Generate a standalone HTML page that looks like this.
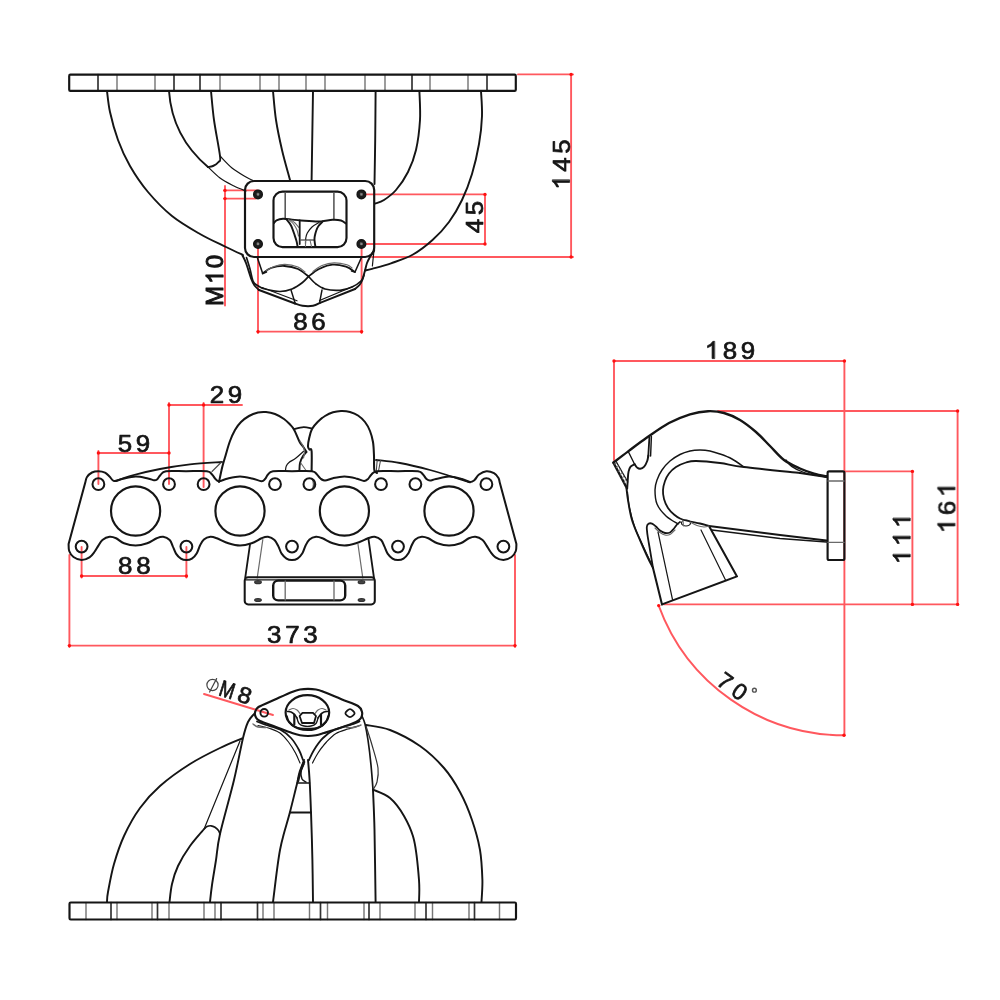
<!DOCTYPE html>
<html><head><meta charset="utf-8"><title>Manifold drawing</title>
<style>
html,body{margin:0;padding:0;background:#fff;}
body{width:1000px;height:1000px;overflow:hidden;}
svg{display:block;font-family:"Liberation Sans",sans-serif;}
svg *{stroke-linecap:round;stroke-linejoin:round;}
</style></head><body>
<svg width="1000" height="1000" viewBox="0 0 1000 1000">
<rect x="0" y="0" width="1000" height="1000" fill="#ffffff" stroke="none"/>
<g style="filter:blur(0.65px)">
<rect x="245.0" y="181.0" width="129.2" height="76.0" rx="9.0" stroke="none" fill="#fff"/>
<path d="M85.4,482.0C85.7,481.2 85.9,478.6 87.0,477.0C88.1,475.4 90.1,473.5 92.0,472.5C93.9,471.5 96.2,471.2 98.4,471.2C100.6,471.2 103.2,471.7 105.0,472.6C106.8,473.5 108.0,475.1 109.5,476.5C111.0,477.9 111.9,480.6 114.0,481.0C116.1,481.4 118.4,479.7 122.0,479.0C125.6,478.3 131.3,476.7 135.6,476.6C139.9,476.5 144.9,477.9 148.0,478.5C151.1,479.1 152.5,480.1 154.0,480.3C155.5,480.5 155.9,480.4 157.0,479.5C158.1,478.6 159.0,476.4 160.5,475.0C162.0,473.6 161.8,471.8 166.0,471.2C170.2,470.6 179.2,471.2 186.0,471.2C192.8,471.2 202.7,470.6 207.0,471.2C211.3,471.8 210.6,473.2 212.0,474.5C213.4,475.8 214.3,477.9 215.5,479.0C216.7,480.1 216.9,481.4 219.0,481.3C221.1,481.2 224.5,479.2 228.0,478.4C231.5,477.6 236.0,476.5 240.0,476.5C244.0,476.5 248.4,477.6 252.0,478.4C255.6,479.2 259.3,481.1 261.5,481.2C263.7,481.3 263.9,480.1 265.0,479.0C266.1,477.9 266.7,475.8 268.0,474.5C269.3,473.2 269.0,471.8 273.0,471.2C277.0,470.6 285.5,471.2 292.0,471.2C298.5,471.2 307.8,470.6 312.0,471.2C316.2,471.8 315.6,473.3 317.0,474.5C318.4,475.7 319.2,477.5 320.5,478.5C321.8,479.5 322.9,480.6 325.0,480.5C327.1,480.4 329.8,478.9 333.0,478.2C336.2,477.5 340.6,476.5 344.4,476.5C348.2,476.5 352.7,477.6 356.0,478.4C359.3,479.1 362.0,480.9 364.0,481.0C366.0,481.1 366.8,480.1 368.0,479.0C369.2,477.9 370.0,475.8 371.5,474.5C373.0,473.2 372.6,471.8 377.0,471.2C381.4,470.6 391.2,471.2 398.0,471.2C404.8,471.2 413.8,470.6 418.0,471.2C422.2,471.8 421.6,473.2 423.0,474.5C424.4,475.8 425.3,478.0 426.5,479.0C427.7,480.0 428.4,480.5 430.0,480.5C431.6,480.5 432.8,479.6 436.0,479.0C439.2,478.4 444.7,476.6 449.0,476.6C453.3,476.6 458.5,478.1 462.0,479.0C465.5,479.9 467.9,481.8 470.0,482.0C472.1,482.2 473.0,481.2 474.5,480.0C476.0,478.8 477.0,476.0 479.0,474.5C481.0,473.0 483.9,471.4 486.4,471.2C488.9,471.0 492.0,472.1 494.0,473.2C496.0,474.3 497.6,476.5 498.5,478.0C499.4,479.5 499.4,481.3 499.6,482.0L516.4,544.0C516.3,545.2 516.6,548.8 515.8,551.0C515.0,553.2 513.6,555.5 511.5,557.0C509.4,558.5 506.1,560.0 503.4,560.0C500.7,560.0 497.6,558.6 495.5,557.3C493.4,556.0 492.1,554.0 490.6,552.0C489.1,550.0 487.9,547.6 486.6,545.6C485.3,543.6 484.5,541.5 482.6,540.0C480.7,538.5 477.7,537.1 475.4,536.8C473.1,536.5 471.4,537.2 468.9,538.3C466.4,539.4 463.9,542.1 460.6,543.3C457.3,544.5 452.9,545.6 449.0,545.6C445.1,545.6 440.8,544.5 437.4,543.3C433.9,542.1 430.9,539.4 428.3,538.3C425.7,537.2 424.0,536.6 421.8,536.8C419.6,537.0 417.0,538.0 415.3,539.5C413.6,541.0 412.8,543.2 411.6,545.5C410.5,547.8 409.8,551.0 408.4,553.2C407.0,555.4 405.2,557.5 403.5,558.6C401.8,559.7 399.8,560.0 398.0,560.0C396.2,560.0 394.2,559.7 392.5,558.6C390.8,557.5 389.0,555.6 387.6,553.6C386.2,551.6 385.5,548.7 384.4,546.4C383.3,544.1 382.7,541.6 381.1,540.0C379.5,538.4 376.8,537.1 374.6,536.8C372.4,536.5 371.2,537.2 368.1,538.3C365.0,539.4 359.9,542.1 356.0,543.3C352.1,544.5 348.3,545.6 344.4,545.6C340.5,545.6 336.4,544.5 332.8,543.3C329.1,542.1 325.3,539.4 322.5,538.3C319.7,537.2 318.2,536.6 316.0,536.8C313.8,537.0 311.2,538.0 309.5,539.5C307.8,541.0 306.8,543.2 305.6,545.5C304.4,547.8 303.8,551.0 302.4,553.2C301.0,555.4 299.2,557.5 297.5,558.6C295.8,559.7 293.8,560.0 292.0,560.0C290.2,560.0 288.2,559.7 286.5,558.6C284.8,557.5 283.0,555.6 281.6,553.6C280.2,551.6 279.6,548.7 278.4,546.4C277.2,544.1 276.2,541.6 274.5,540.0C272.8,538.4 270.2,537.1 268.0,536.8C265.8,536.5 264.2,537.2 261.5,538.3C258.8,539.4 255.2,542.1 251.6,543.3C248.0,544.5 243.9,545.6 240.0,545.6C236.1,545.6 232.2,544.5 228.4,543.3C224.6,542.1 219.9,539.4 216.9,538.3C213.9,537.2 212.6,536.6 210.4,536.8C208.2,537.0 205.6,538.0 203.9,539.5C202.2,541.0 201.2,543.2 200.0,545.5C198.8,547.8 198.2,551.0 196.8,553.2C195.5,555.4 193.6,557.5 191.9,558.6C190.2,559.7 188.2,560.0 186.4,560.0C184.6,560.0 182.6,559.7 180.9,558.6C179.2,557.5 177.3,555.6 176.0,553.6C174.7,551.6 173.9,548.7 172.8,546.4C171.8,544.1 171.3,541.6 169.7,540.0C168.1,538.4 165.4,537.1 163.2,536.8C161.0,536.5 159.4,537.2 156.7,538.3C154.0,539.4 150.7,542.1 147.2,543.3C143.7,544.5 139.5,545.6 135.6,545.6C131.7,545.6 127.2,544.5 124.0,543.3C120.8,542.1 118.5,539.4 116.1,538.3C113.7,537.2 111.9,536.5 109.6,536.8C107.3,537.1 104.3,538.5 102.4,540.0C100.5,541.5 99.7,543.6 98.4,545.6C97.1,547.6 95.9,550.0 94.4,552.0C92.9,554.0 91.6,556.0 89.5,557.3C87.4,558.6 84.3,560.0 81.6,560.0C78.9,560.0 75.6,558.5 73.5,557.0C71.4,555.5 70.0,553.2 69.2,551.0C68.4,548.8 68.7,545.2 68.6,544.0Z" stroke="none" fill="#fff"/>
<rect x="827.6" y="471.3" width="16.8" height="88.7" rx="1.5" stroke="none" fill="#fff"/>
<path d="M255.0,712.5C255.4,710.8 255.2,709.2 258.5,707.0C261.8,704.8 269.4,702.0 275.0,699.5C280.6,697.0 287.8,693.7 292.0,692.0C296.2,690.3 297.3,690.0 300.0,689.5C302.7,689.0 305.3,688.8 308.0,688.8C310.7,688.8 313.3,689.0 316.0,689.5C318.7,690.0 319.7,690.3 324.0,692.0C328.3,693.7 336.3,697.2 342.0,699.5C347.7,701.8 354.7,703.9 358.0,706.0C361.3,708.1 361.5,710.0 362.0,712.0C362.5,714.0 362.0,716.3 361.0,718.0C360.0,719.7 359.5,720.3 356.0,722.0C352.5,723.7 345.3,726.2 340.0,728.0C334.7,729.8 328.0,731.8 324.0,733.0C320.0,734.2 318.7,734.7 316.0,735.2C313.3,735.7 310.7,736.0 308.0,736.0C305.3,736.0 302.7,735.7 300.0,735.2C297.3,734.7 296.0,734.4 292.0,733.0C288.0,731.6 281.3,729.0 276.0,727.0C270.7,725.0 263.3,722.6 260.0,721.0C256.7,719.4 256.8,718.9 256.0,717.5C255.2,716.1 254.6,714.2 255.0,712.5Z" stroke="none" fill="#fff"/>
<line x1="225.0" y1="186.0" x2="225.0" y2="305.6" stroke="#ff585e" stroke-width="1.9"/>
<line x1="224.0" y1="190.4" x2="258.0" y2="190.4" stroke="#ff585e" stroke-width="1.9"/>
<line x1="224.0" y1="198.6" x2="256.0" y2="198.6" stroke="#ff585e" stroke-width="1.9"/>
<line x1="366.0" y1="194.4" x2="485.0" y2="194.4" stroke="#ff585e" stroke-width="1.9"/>
<line x1="366.0" y1="244.0" x2="485.0" y2="244.0" stroke="#ff585e" stroke-width="1.9"/>
<line x1="485.0" y1="194.4" x2="485.0" y2="244.0" stroke="#ff585e" stroke-width="1.9"/>
<line x1="518.0" y1="74.4" x2="573.0" y2="74.4" stroke="#ff585e" stroke-width="1.9"/>
<line x1="372.0" y1="257.0" x2="573.0" y2="257.0" stroke="#ff585e" stroke-width="1.9"/>
<line x1="571.1" y1="74.4" x2="571.1" y2="257.0" stroke="#ff585e" stroke-width="1.9"/>
<line x1="258.0" y1="248.0" x2="258.0" y2="333.0" stroke="#ff585e" stroke-width="1.9"/>
<line x1="361.6" y1="248.0" x2="361.6" y2="333.0" stroke="#ff585e" stroke-width="1.9"/>
<line x1="258.0" y1="331.6" x2="361.6" y2="331.6" stroke="#ff585e" stroke-width="1.9"/>
<circle cx="225.0" cy="190.4" r="1.7" fill="#ff1010"/>
<circle cx="225.0" cy="198.6" r="1.7" fill="#ff1010"/>
<circle cx="485.0" cy="194.4" r="1.7" fill="#ff1010"/>
<circle cx="485.0" cy="244.0" r="1.7" fill="#ff1010"/>
<circle cx="571.1" cy="74.4" r="1.7" fill="#ff1010"/>
<circle cx="571.1" cy="257.0" r="1.7" fill="#ff1010"/>
<circle cx="258.0" cy="331.6" r="1.7" fill="#ff1010"/>
<circle cx="361.6" cy="331.6" r="1.7" fill="#ff1010"/>
<line x1="98.4" y1="451.0" x2="98.4" y2="484.0" stroke="#ff585e" stroke-width="1.9"/>
<line x1="169.0" y1="403.0" x2="169.0" y2="484.0" stroke="#ff585e" stroke-width="1.9"/>
<line x1="98.4" y1="453.0" x2="169.0" y2="453.0" stroke="#ff585e" stroke-width="1.9"/>
<line x1="169.0" y1="405.0" x2="242.0" y2="405.0" stroke="#ff585e" stroke-width="1.9"/>
<line x1="203.6" y1="403.0" x2="203.6" y2="487.0" stroke="#ff585e" stroke-width="1.9"/>
<line x1="81.6" y1="547.0" x2="81.6" y2="577.5" stroke="#ff585e" stroke-width="1.9"/>
<line x1="186.4" y1="547.0" x2="186.4" y2="577.5" stroke="#ff585e" stroke-width="1.9"/>
<line x1="81.6" y1="576.0" x2="186.4" y2="576.0" stroke="#ff585e" stroke-width="1.9"/>
<line x1="69.4" y1="555.0" x2="69.4" y2="647.0" stroke="#ff585e" stroke-width="1.9"/>
<line x1="515.0" y1="555.0" x2="515.0" y2="647.0" stroke="#ff585e" stroke-width="1.9"/>
<line x1="69.4" y1="645.6" x2="515.0" y2="645.6" stroke="#ff585e" stroke-width="1.9"/>
<circle cx="98.4" cy="453.0" r="1.7" fill="#ff1010"/>
<circle cx="169.0" cy="453.0" r="1.7" fill="#ff1010"/>
<circle cx="169.0" cy="405.0" r="1.7" fill="#ff1010"/>
<circle cx="203.6" cy="405.0" r="1.7" fill="#ff1010"/>
<circle cx="81.6" cy="576.0" r="1.7" fill="#ff1010"/>
<circle cx="186.4" cy="576.0" r="1.7" fill="#ff1010"/>
<circle cx="69.4" cy="645.6" r="1.7" fill="#ff1010"/>
<circle cx="515.0" cy="645.6" r="1.7" fill="#ff1010"/>
<line x1="614.0" y1="361.0" x2="844.4" y2="361.0" stroke="#ff585e" stroke-width="1.9"/>
<line x1="614.0" y1="361.0" x2="614.0" y2="460.0" stroke="#ff585e" stroke-width="1.9"/>
<line x1="844.4" y1="361.0" x2="844.4" y2="735.5" stroke="#ff585e" stroke-width="1.9"/>
<line x1="718.0" y1="411.0" x2="958.0" y2="411.0" stroke="#ff585e" stroke-width="1.9"/>
<line x1="957.6" y1="411.0" x2="957.6" y2="604.4" stroke="#ff585e" stroke-width="1.9"/>
<line x1="845.0" y1="471.4" x2="912.4" y2="471.4" stroke="#ff585e" stroke-width="1.9"/>
<line x1="912.4" y1="471.4" x2="912.4" y2="604.4" stroke="#ff585e" stroke-width="1.9"/>
<line x1="664.0" y1="604.4" x2="958.0" y2="604.4" stroke="#ff585e" stroke-width="1.9"/>
<path d="M658.7,605.6A197.3,197.3 0 0 0 844,735.3" stroke="#ff585e" stroke-width="1.9" fill="none"/>
<circle cx="614.0" cy="361.0" r="1.7" fill="#ff1010"/>
<circle cx="844.4" cy="361.0" r="1.7" fill="#ff1010"/>
<circle cx="957.6" cy="411.0" r="1.7" fill="#ff1010"/>
<circle cx="912.4" cy="471.4" r="1.7" fill="#ff1010"/>
<circle cx="912.4" cy="604.4" r="1.7" fill="#ff1010"/>
<circle cx="957.6" cy="604.4" r="1.7" fill="#ff1010"/>
<circle cx="658.7" cy="605.6" r="1.7" fill="#ff1010"/>
<circle cx="844.0" cy="735.3" r="1.7" fill="#ff1010"/>
<line x1="204.0" y1="694.0" x2="273.0" y2="715.0" stroke="#ff585e" stroke-width="1.9"/>
<line x1="98.0" y1="74.7" x2="98.0" y2="90.9" stroke="#333" stroke-width="1.68"/>
<line x1="117.0" y1="74.7" x2="117.0" y2="90.9" stroke="#777" stroke-width="1.44"/>
<line x1="155.0" y1="74.7" x2="155.0" y2="90.9" stroke="#777" stroke-width="1.44"/>
<line x1="174.0" y1="74.7" x2="174.0" y2="90.9" stroke="#333" stroke-width="1.68"/>
<line x1="200.0" y1="74.7" x2="200.0" y2="90.9" stroke="#333" stroke-width="1.68"/>
<line x1="220.0" y1="74.7" x2="220.0" y2="90.9" stroke="#777" stroke-width="1.44"/>
<line x1="260.0" y1="74.7" x2="260.0" y2="90.9" stroke="#777" stroke-width="1.44"/>
<line x1="279.0" y1="74.7" x2="279.0" y2="90.9" stroke="#777" stroke-width="1.44"/>
<line x1="306.0" y1="74.7" x2="306.0" y2="90.9" stroke="#777" stroke-width="1.44"/>
<line x1="325.0" y1="74.7" x2="325.0" y2="90.9" stroke="#777" stroke-width="1.44"/>
<line x1="365.0" y1="74.7" x2="365.0" y2="90.9" stroke="#777" stroke-width="1.44"/>
<line x1="385.0" y1="74.7" x2="385.0" y2="90.9" stroke="#777" stroke-width="1.44"/>
<line x1="412.0" y1="74.7" x2="412.0" y2="90.9" stroke="#333" stroke-width="1.68"/>
<line x1="430.0" y1="74.7" x2="430.0" y2="90.9" stroke="#777" stroke-width="1.44"/>
<line x1="468.0" y1="74.7" x2="468.0" y2="90.9" stroke="#777" stroke-width="1.44"/>
<line x1="487.0" y1="74.7" x2="487.0" y2="90.9" stroke="#333" stroke-width="1.68"/>
<rect x="69.2" y="74.7" width="446.6" height="16.2" rx="1.2" stroke="#151515" stroke-width="2.16" fill="none"/>
<path d="M107.0,91.0C107.5,94.5 108.2,103.8 110.0,112.0C111.8,120.2 114.7,131.0 118.0,140.0C121.3,149.0 125.0,157.3 130.0,166.0C135.0,174.7 141.0,183.7 148.0,192.0C155.0,200.3 163.3,209.0 172.0,216.0C180.7,223.0 191.0,228.8 200.0,234.0C209.0,239.2 218.8,243.5 226.0,247.0C233.2,250.5 240.2,253.7 243.0,255.0" stroke="#151515" stroke-width="1.92" fill="none" />
<path d="M169,91C171,120 182,145 208,167" stroke="#151515" stroke-width="1.92" fill="none" />
<path d="M208.0,167.0C210.0,168.8 215.7,174.8 220.0,178.0C224.3,181.2 229.7,183.8 234.0,186.0C238.3,188.2 244.0,190.2 246.0,191.0" stroke="#151515" stroke-width="1.2" fill="none" />
<path d="M211.0,91.0C211.5,95.8 212.5,109.2 214.0,120.0C215.5,130.8 219.2,149.0 220.0,156.0C220.8,163.0 219.7,160.3 218.5,162.0C217.3,163.7 214.8,165.2 213.0,166.0C211.2,166.8 208.8,166.8 208.0,167.0" stroke="#151515" stroke-width="1.92" fill="none" />
<path d="M220.0,156.0C222.0,158.0 227.7,164.5 232.0,168.0C236.3,171.5 242.5,174.9 246.0,177.0C249.5,179.1 251.8,179.9 253.0,180.5" stroke="#151515" stroke-width="1.2" fill="none" />
<path d="M273.0,91.0C273.5,95.8 274.5,110.2 276.0,120.0C277.5,129.8 279.7,140.0 282.0,150.0C284.3,160.0 288.7,175.0 290.0,180.0" stroke="#151515" stroke-width="1.92" fill="none" />
<line x1="313.0" y1="91.0" x2="311.6" y2="180.0" stroke="#151515" stroke-width="1.92"/>
<path d="M375.6,91.0C375.5,99.2 375.4,124.5 375.2,140.0C375.0,155.5 374.6,176.7 374.5,184.0" stroke="#151515" stroke-width="1.92" fill="none" />
<path d="M419.4,91.0C419.5,95.8 420.6,110.2 420.0,120.0C419.4,129.8 418.0,141.3 416.0,150.0C414.0,158.7 411.3,165.3 408.0,172.0C404.7,178.7 400.0,185.3 396.0,190.0C392.0,194.7 387.5,197.7 384.0,200.0C380.5,202.3 376.5,203.0 375.0,203.6" stroke="#151515" stroke-width="1.92" fill="none" />
<path d="M481.0,91.0C481.2,95.2 482.3,107.2 482.0,116.0C481.7,124.8 480.7,134.3 479.0,144.0C477.3,153.7 474.8,164.7 472.0,174.0C469.2,183.3 465.8,192.0 462.0,200.0C458.2,208.0 453.9,215.3 449.0,222.0C444.1,228.7 438.5,234.6 432.5,240.0C426.5,245.4 419.9,250.6 413.0,254.5C406.1,258.4 397.8,260.9 391.0,263.3C384.2,265.7 376.3,267.6 372.0,268.8C367.7,270.0 366.2,270.2 365.0,270.5" stroke="#151515" stroke-width="1.92" fill="none" />
<rect x="245.0" y="181.0" width="129.2" height="76.0" rx="9.0" stroke="#151515" stroke-width="2.16" fill="none"/>
<rect x="273.5" y="191.6" width="73.0" height="55.5" rx="9.0" stroke="#151515" stroke-width="2.16" fill="none"/>
<circle cx="258.0" cy="194.4" r="4.3" stroke="#151515" stroke-width="1.44" fill="#1c1c1c"/>
<rect x="256.9" y="193.2" width="2.2" height="2.2" rx="0.3" stroke="#777" stroke-width="0.36" fill="#8a8a8a"/>
<circle cx="361.4" cy="194.4" r="4.3" stroke="#151515" stroke-width="1.44" fill="#1c1c1c"/>
<rect x="360.3" y="193.2" width="2.2" height="2.2" rx="0.3" stroke="#777" stroke-width="0.36" fill="#8a8a8a"/>
<circle cx="258.0" cy="244.0" r="4.3" stroke="#151515" stroke-width="1.44" fill="#1c1c1c"/>
<rect x="256.9" y="242.8" width="2.2" height="2.2" rx="0.3" stroke="#777" stroke-width="0.36" fill="#8a8a8a"/>
<circle cx="361.4" cy="244.0" r="4.3" stroke="#151515" stroke-width="1.44" fill="#1c1c1c"/>
<rect x="360.3" y="242.8" width="2.2" height="2.2" rx="0.3" stroke="#777" stroke-width="0.36" fill="#8a8a8a"/>
<line x1="285.2" y1="192.5" x2="285.2" y2="218.7" stroke="#555" stroke-width="1.56"/>
<line x1="333.9" y1="192.5" x2="333.9" y2="219.5" stroke="#555" stroke-width="1.56"/>
<path d="M274.0,223.0C274.4,222.6 275.0,221.0 276.5,220.3C278.0,219.6 280.4,218.9 283.0,218.8C285.6,218.7 289.0,219.3 292.0,219.6C295.0,219.9 296.5,220.2 301.0,220.5C305.5,220.8 313.8,221.6 319.0,221.5C324.2,221.4 328.8,220.0 332.5,219.8C336.2,219.6 338.8,219.9 341.0,220.5C343.2,221.1 345.2,223.0 346.0,223.5" stroke="#151515" stroke-width="1.92" fill="none" />
<path d="M286.6,219.5C287.3,220.5 289.6,222.8 291.0,225.5C292.4,228.2 293.8,232.8 294.7,235.4C295.6,238.0 296.0,239.2 296.5,241.0C297.0,242.8 297.4,245.6 297.6,246.5" stroke="#151515" stroke-width="1.92" fill="none" />
<path d="M288.5,219.5C289.3,220.2 292.1,222.2 293.5,224.0C294.9,225.8 296.2,228.0 297.0,230.0C297.8,232.0 298.2,235.0 298.5,236.0" stroke="#6a6a6a" stroke-width="1.08" fill="none" />
<path d="M291.0,220.0C291.7,220.5 293.7,221.8 295.0,223.0C296.3,224.2 298.3,226.8 299.0,227.5" stroke="#6a6a6a" stroke-width="1.08" fill="none" />
<path d="M322.6,221.6C321.9,222.3 319.6,224.5 318.5,226.0C317.4,227.5 316.9,228.8 316.3,230.5C315.7,232.2 315.1,234.4 314.8,236.0C314.5,237.6 314.4,238.2 314.5,240.0C314.6,241.8 315.2,245.4 315.4,246.5" stroke="#151515" stroke-width="1.92" fill="none" />
<path d="M319.0,222.5C317.8,223.2 313.9,225.2 312.0,227.0C310.1,228.8 308.3,231.2 307.3,233.0C306.3,234.8 306.1,236.2 305.8,238.0C305.5,239.8 305.6,242.6 305.5,243.5" stroke="#151515" stroke-width="1.2" fill="none" />
<line x1="299.7" y1="220.5" x2="299.7" y2="244.0" stroke="#151515" stroke-width="1.8"/>
<line x1="301.0" y1="240.0" x2="313.6" y2="240.0" stroke="#151515" stroke-width="1.2"/>
<line x1="305.5" y1="240.0" x2="305.5" y2="246.5" stroke="#6a6a6a" stroke-width="1.08"/>
<line x1="310.0" y1="240.0" x2="311.5" y2="246.5" stroke="#6a6a6a" stroke-width="1.08"/>
<path d="M242.5,255.5C243.1,256.8 244.5,259.0 246.0,263.0C247.5,267.0 250.1,275.8 251.5,279.5C252.9,283.2 253.2,283.8 254.5,285.5C255.8,287.2 258.2,289.2 259.0,290.0" stroke="#151515" stroke-width="1.92" fill="none" />
<path d="M259.0,290.0L295.0,303.5" stroke="#151515" stroke-width="1.92" fill="none" />
<path d="M295.0,303.5C296.2,303.9 299.5,305.4 302.5,305.8C305.5,306.2 310.0,306.3 313.0,305.8C316.0,305.3 319.2,303.2 320.5,302.7" stroke="#151515" stroke-width="1.92" fill="none" />
<path d="M320.5,302.7L355.0,289.0" stroke="#151515" stroke-width="1.92" fill="none" />
<path d="M355.0,289.0C355.8,288.3 358.2,286.6 359.5,285.0C360.8,283.4 361.6,281.9 362.5,279.5C363.4,277.1 364.2,273.2 365.0,270.5C365.8,267.8 366.2,265.2 367.0,263.0C367.8,260.8 368.8,259.2 370.0,257.0C371.2,254.8 373.6,251.2 374.3,250.0" stroke="#151515" stroke-width="1.92" fill="none" />
<path d="M246.5,257.5C247.1,259.4 248.9,265.1 250.0,269.0C251.1,272.9 251.8,278.2 253.0,281.0C254.2,283.8 255.5,284.2 257.5,285.5C259.5,286.8 261.2,288.0 265.0,289.0C268.8,290.0 275.5,291.5 280.0,291.5C284.5,291.5 288.2,290.5 292.0,289.0C295.8,287.5 299.8,284.6 302.5,282.5C305.2,280.4 307.5,277.5 308.5,276.5" stroke="#151515" stroke-width="1.68" fill="none" />
<path d="M308.5,276.5C309.8,277.8 313.2,281.9 316.0,284.0C318.8,286.1 321.0,287.9 325.0,289.0C329.0,290.1 335.5,290.6 340.0,290.3C344.5,290.0 348.5,288.6 352.0,287.0C355.5,285.4 359.0,283.0 361.0,281.0C363.0,279.0 363.5,276.0 364.0,275.0" stroke="#151515" stroke-width="1.68" fill="none" />
<path d="M262.0,287.5L297.0,300.8" stroke="#151515" stroke-width="1.2" fill="none" />
<path d="M319.5,300.5L353.0,286.5" stroke="#151515" stroke-width="1.2" fill="none" />
<path d="M262.7,273.5C264.1,272.6 267.4,269.2 271.0,268.0C274.6,266.8 280.0,265.8 284.5,266.0C289.0,266.2 294.0,267.2 298.0,269.0C302.0,270.8 306.8,275.2 308.5,276.5" stroke="#151515" stroke-width="1.8" fill="none" />
<path d="M308.5,276.5C310.2,275.2 315.0,271.0 319.0,269.0C323.0,267.0 328.0,265.0 332.5,264.6C337.0,264.2 342.2,265.5 346.0,266.7C349.8,267.9 353.5,271.1 355.0,272.0" stroke="#151515" stroke-width="1.8" fill="none" />
<path d="M266.0,271.0C267.3,270.2 270.8,267.6 274.0,266.5C277.2,265.4 281.0,264.2 285.0,264.3C289.0,264.4 294.7,265.7 298.0,267.0C301.3,268.3 303.8,271.2 305.0,272.0" stroke="#6a6a6a" stroke-width="1.2" fill="none" />
<path d="M313.0,271.5C314.5,270.5 318.5,266.9 322.0,265.5C325.5,264.1 329.8,262.9 334.0,262.8C338.2,262.7 344.0,263.9 347.0,264.8C350.0,265.7 351.2,267.5 352.0,268.0" stroke="#6a6a6a" stroke-width="1.2" fill="none" />
<path d="M257.5,258.0L262.7,273.5L266.5,272.0" stroke="#151515" stroke-width="1.56" fill="none" />
<path d="M361.2,258.0L355.0,272.0L351.5,271.0" stroke="#151515" stroke-width="1.56" fill="none" />
<line x1="291.0" y1="290.0" x2="295.0" y2="302.7" stroke="#151515" stroke-width="1.44"/>
<line x1="322.0" y1="290.0" x2="319.7" y2="302.0" stroke="#151515" stroke-width="1.44"/>
<path d="M374.3,248.0C374.1,249.7 373.5,255.0 373.2,258.0C372.9,261.0 372.5,264.7 372.4,266.0" stroke="#151515" stroke-width="1.2" fill="none" />
<g transform="translate(561.0,164.5) rotate(-90) scale(1.08,1)" fill="#151515" stroke="#151515" stroke-width="0.7" font-size="24">
<path transform="translate(-23.42,8.59) scale(24)" d="M0.3726,0H0.2847V-0.5601Q0.2529,-0.5298 0.2014,-0.4995T0.1089,-0.4541V-0.5391Q0.1821,-0.5735 0.2368,-0.6226T0.3145,-0.7173H0.3726Z" stroke-width="0.0292"/>
<text x="-6.67" y="8.59">4</text>
<text x="10.07" y="8.59">5</text>
</g>
<g transform="translate(474.5,217.0) rotate(-90) scale(1.08,1)" fill="#151515" stroke="#151515" stroke-width="0.7" font-size="24">
<text x="-15.04" y="8.59">4</text>
<text x="1.70" y="8.59">5</text>
</g>
<g transform="translate(309.5,321.0) rotate(0) scale(1.08,1)" fill="#151515" stroke="#151515" stroke-width="0.7" font-size="24">
<text x="-15.04" y="8.59">8</text>
<text x="1.70" y="8.59">6</text>
</g>
<g transform="translate(214.5,280.5) rotate(-90) scale(1.0,1)" fill="#151515" stroke="#151515" stroke-width="1.0" font-size="24">
<text x="-25.54" y="8.59">M</text>
<path transform="translate(-3.35,8.59) scale(24)" d="M0.3726,0H0.2847V-0.5601Q0.2529,-0.5298 0.2014,-0.4995T0.1089,-0.4541V-0.5391Q0.1821,-0.5735 0.2368,-0.6226T0.3145,-0.7173H0.3726Z" stroke-width="0.0417"/>
<text x="12.20" y="8.59">0</text>
</g>
<path d="M116.0,481.0C118.3,480.2 122.7,478.0 130.0,476.0C137.3,474.0 150.0,470.9 160.0,469.0C170.0,467.1 179.7,465.6 190.0,464.4C200.3,463.2 216.7,462.4 222.0,462.0" stroke="#151515" stroke-width="1.8" fill="none" />
<line x1="212.0" y1="471.5" x2="221.5" y2="462.0" stroke="#444" stroke-width="1.08"/>
<path d="M376.0,460.0C380.0,460.5 391.0,461.3 400.0,463.0C409.0,464.7 421.7,467.8 430.0,470.0C438.3,472.2 443.3,473.9 450.0,476.0C456.7,478.1 466.7,481.3 470.0,482.4" stroke="#151515" stroke-width="1.8" fill="none" />
<line x1="378.5" y1="471.0" x2="380.5" y2="460.5" stroke="#444" stroke-width="1.08"/>
<line x1="376.3" y1="471.0" x2="377.2" y2="460.0" stroke="#444" stroke-width="1.08"/>
<path d="M219.0,482.0C219.6,479.3 221.3,470.7 222.5,466.0C223.7,461.3 224.8,458.2 226.0,454.0C227.2,449.8 228.5,445.0 230.0,441.0C231.5,437.0 233.2,433.2 235.0,430.0C236.8,426.8 238.7,424.3 241.0,422.0C243.3,419.7 246.2,417.6 249.0,416.0C251.8,414.4 255.2,413.2 258.0,412.5C260.8,411.8 263.2,411.8 266.0,412.0C268.8,412.2 272.0,412.8 275.0,414.0C278.0,415.2 281.5,417.2 284.0,419.0C286.5,420.8 288.3,422.8 290.0,424.5C291.7,426.2 292.4,426.7 294.0,429.5C295.6,432.3 297.9,438.7 299.4,441.5C300.9,444.3 301.8,444.8 303.0,446.5C304.2,448.2 305.8,451.1 306.4,452.0" stroke="#151515" stroke-width="2.04" fill="none" />
<path d="M306.4,452.0C305.8,452.7 304.1,454.2 303.0,456.0C301.9,457.8 300.6,460.5 300.0,463.0C299.4,465.5 299.5,469.7 299.4,471.0" stroke="#151515" stroke-width="1.92" fill="none" />
<path d="M311.6,471.0C311.6,467.7 312.0,454.6 311.6,451.0C311.2,447.4 310.1,450.2 309.5,449.5C308.9,448.8 308.1,448.4 308.0,446.5C307.9,444.6 308.5,440.9 309.2,438.0C309.9,435.1 310.6,431.7 312.0,429.0C313.4,426.3 315.4,424.2 317.6,422.0C319.8,419.8 322.4,417.6 325.0,416.0C327.6,414.4 330.3,413.1 333.0,412.3C335.7,411.5 338.2,411.1 341.0,411.0C343.8,410.9 347.2,411.2 350.0,412.0C352.8,412.8 355.5,413.8 358.0,415.5C360.5,417.2 363.0,419.4 365.0,422.0C367.0,424.6 368.7,427.7 370.0,431.0C371.3,434.3 372.3,437.8 373.0,442.0C373.7,446.2 373.8,451.3 374.0,456.0C374.2,460.7 373.8,467.2 374.3,470.0C374.8,472.8 376.6,472.5 377.0,473.0" stroke="#151515" stroke-width="2.04" fill="none" />
<path d="M293.8,429.3C295.4,428.9 300.6,427.3 303.6,427.2C306.6,427.1 310.6,428.4 312.0,428.6" stroke="#151515" stroke-width="1.8" fill="none" />
<path d="M303.6,451.3C302.3,452.4 298.4,456.1 296.0,458.0C293.6,459.9 290.6,461.2 289.0,462.5C287.4,463.8 286.9,464.6 286.3,466.0C285.7,467.4 285.5,470.2 285.4,471.0" stroke="#151515" stroke-width="1.2" fill="none" />
<line x1="300.8" y1="463.0" x2="306.4" y2="471.0" stroke="#6a6a6a" stroke-width="1.08"/>
<path d="M300.0,441.0C300.5,441.8 302.2,444.2 303.0,446.0C303.8,447.8 304.4,450.0 304.5,452.0C304.6,454.0 303.7,457.0 303.5,458.0" stroke="#6a6a6a" stroke-width="1.2" fill="none" />
<path d="M85.4,482.0C85.7,481.2 85.9,478.6 87.0,477.0C88.1,475.4 90.1,473.5 92.0,472.5C93.9,471.5 96.2,471.2 98.4,471.2C100.6,471.2 103.2,471.7 105.0,472.6C106.8,473.5 108.0,475.1 109.5,476.5C111.0,477.9 111.9,480.6 114.0,481.0C116.1,481.4 118.4,479.7 122.0,479.0C125.6,478.3 131.3,476.7 135.6,476.6C139.9,476.5 144.9,477.9 148.0,478.5C151.1,479.1 152.5,480.1 154.0,480.3C155.5,480.5 155.9,480.4 157.0,479.5C158.1,478.6 159.0,476.4 160.5,475.0C162.0,473.6 161.8,471.8 166.0,471.2C170.2,470.6 179.2,471.2 186.0,471.2C192.8,471.2 202.7,470.6 207.0,471.2C211.3,471.8 210.6,473.2 212.0,474.5C213.4,475.8 214.3,477.9 215.5,479.0C216.7,480.1 216.9,481.4 219.0,481.3C221.1,481.2 224.5,479.2 228.0,478.4C231.5,477.6 236.0,476.5 240.0,476.5C244.0,476.5 248.4,477.6 252.0,478.4C255.6,479.2 259.3,481.1 261.5,481.2C263.7,481.3 263.9,480.1 265.0,479.0C266.1,477.9 266.7,475.8 268.0,474.5C269.3,473.2 269.0,471.8 273.0,471.2C277.0,470.6 285.5,471.2 292.0,471.2C298.5,471.2 307.8,470.6 312.0,471.2C316.2,471.8 315.6,473.3 317.0,474.5C318.4,475.7 319.2,477.5 320.5,478.5C321.8,479.5 322.9,480.6 325.0,480.5C327.1,480.4 329.8,478.9 333.0,478.2C336.2,477.5 340.6,476.5 344.4,476.5C348.2,476.5 352.7,477.6 356.0,478.4C359.3,479.1 362.0,480.9 364.0,481.0C366.0,481.1 366.8,480.1 368.0,479.0C369.2,477.9 370.0,475.8 371.5,474.5C373.0,473.2 372.6,471.8 377.0,471.2C381.4,470.6 391.2,471.2 398.0,471.2C404.8,471.2 413.8,470.6 418.0,471.2C422.2,471.8 421.6,473.2 423.0,474.5C424.4,475.8 425.3,478.0 426.5,479.0C427.7,480.0 428.4,480.5 430.0,480.5C431.6,480.5 432.8,479.6 436.0,479.0C439.2,478.4 444.7,476.6 449.0,476.6C453.3,476.6 458.5,478.1 462.0,479.0C465.5,479.9 467.9,481.8 470.0,482.0C472.1,482.2 473.0,481.2 474.5,480.0C476.0,478.8 477.0,476.0 479.0,474.5C481.0,473.0 483.9,471.4 486.4,471.2C488.9,471.0 492.0,472.1 494.0,473.2C496.0,474.3 497.6,476.5 498.5,478.0C499.4,479.5 499.4,481.3 499.6,482.0L516.4,544.0C516.3,545.2 516.6,548.8 515.8,551.0C515.0,553.2 513.6,555.5 511.5,557.0C509.4,558.5 506.1,560.0 503.4,560.0C500.7,560.0 497.6,558.6 495.5,557.3C493.4,556.0 492.1,554.0 490.6,552.0C489.1,550.0 487.9,547.6 486.6,545.6C485.3,543.6 484.5,541.5 482.6,540.0C480.7,538.5 477.7,537.1 475.4,536.8C473.1,536.5 471.4,537.2 468.9,538.3C466.4,539.4 463.9,542.1 460.6,543.3C457.3,544.5 452.9,545.6 449.0,545.6C445.1,545.6 440.8,544.5 437.4,543.3C433.9,542.1 430.9,539.4 428.3,538.3C425.7,537.2 424.0,536.6 421.8,536.8C419.6,537.0 417.0,538.0 415.3,539.5C413.6,541.0 412.8,543.2 411.6,545.5C410.5,547.8 409.8,551.0 408.4,553.2C407.0,555.4 405.2,557.5 403.5,558.6C401.8,559.7 399.8,560.0 398.0,560.0C396.2,560.0 394.2,559.7 392.5,558.6C390.8,557.5 389.0,555.6 387.6,553.6C386.2,551.6 385.5,548.7 384.4,546.4C383.3,544.1 382.7,541.6 381.1,540.0C379.5,538.4 376.8,537.1 374.6,536.8C372.4,536.5 371.2,537.2 368.1,538.3C365.0,539.4 359.9,542.1 356.0,543.3C352.1,544.5 348.3,545.6 344.4,545.6C340.5,545.6 336.4,544.5 332.8,543.3C329.1,542.1 325.3,539.4 322.5,538.3C319.7,537.2 318.2,536.6 316.0,536.8C313.8,537.0 311.2,538.0 309.5,539.5C307.8,541.0 306.8,543.2 305.6,545.5C304.4,547.8 303.8,551.0 302.4,553.2C301.0,555.4 299.2,557.5 297.5,558.6C295.8,559.7 293.8,560.0 292.0,560.0C290.2,560.0 288.2,559.7 286.5,558.6C284.8,557.5 283.0,555.6 281.6,553.6C280.2,551.6 279.6,548.7 278.4,546.4C277.2,544.1 276.2,541.6 274.5,540.0C272.8,538.4 270.2,537.1 268.0,536.8C265.8,536.5 264.2,537.2 261.5,538.3C258.8,539.4 255.2,542.1 251.6,543.3C248.0,544.5 243.9,545.6 240.0,545.6C236.1,545.6 232.2,544.5 228.4,543.3C224.6,542.1 219.9,539.4 216.9,538.3C213.9,537.2 212.6,536.6 210.4,536.8C208.2,537.0 205.6,538.0 203.9,539.5C202.2,541.0 201.2,543.2 200.0,545.5C198.8,547.8 198.2,551.0 196.8,553.2C195.5,555.4 193.6,557.5 191.9,558.6C190.2,559.7 188.2,560.0 186.4,560.0C184.6,560.0 182.6,559.7 180.9,558.6C179.2,557.5 177.3,555.6 176.0,553.6C174.7,551.6 173.9,548.7 172.8,546.4C171.8,544.1 171.3,541.6 169.7,540.0C168.1,538.4 165.4,537.1 163.2,536.8C161.0,536.5 159.4,537.2 156.7,538.3C154.0,539.4 150.7,542.1 147.2,543.3C143.7,544.5 139.5,545.6 135.6,545.6C131.7,545.6 127.2,544.5 124.0,543.3C120.8,542.1 118.5,539.4 116.1,538.3C113.7,537.2 111.9,536.5 109.6,536.8C107.3,537.1 104.3,538.5 102.4,540.0C100.5,541.5 99.7,543.6 98.4,545.6C97.1,547.6 95.9,550.0 94.4,552.0C92.9,554.0 91.6,556.0 89.5,557.3C87.4,558.6 84.3,560.0 81.6,560.0C78.9,560.0 75.6,558.5 73.5,557.0C71.4,555.5 70.0,553.2 69.2,551.0C68.4,548.8 68.7,545.2 68.6,544.0Z" stroke="#151515" stroke-width="2.04" fill="none" />
<circle cx="135.6" cy="511.0" r="24.6" stroke="#151515" stroke-width="2.16" fill="none"/>
<circle cx="240.0" cy="511.0" r="24.6" stroke="#151515" stroke-width="2.16" fill="none"/>
<circle cx="344.4" cy="511.0" r="24.6" stroke="#151515" stroke-width="2.16" fill="none"/>
<circle cx="449.0" cy="511.0" r="24.6" stroke="#151515" stroke-width="2.16" fill="none"/>
<circle cx="98.4" cy="484.2" r="5.9" stroke="#151515" stroke-width="2.04" fill="none"/>
<circle cx="169.0" cy="484.2" r="5.9" stroke="#151515" stroke-width="2.04" fill="none"/>
<circle cx="203.6" cy="484.2" r="5.9" stroke="#151515" stroke-width="2.04" fill="none"/>
<circle cx="275.0" cy="484.2" r="5.9" stroke="#151515" stroke-width="2.04" fill="none"/>
<circle cx="309.4" cy="484.2" r="5.9" stroke="#151515" stroke-width="2.04" fill="none"/>
<circle cx="381.0" cy="484.2" r="5.9" stroke="#151515" stroke-width="2.04" fill="none"/>
<circle cx="415.4" cy="484.2" r="5.9" stroke="#151515" stroke-width="2.04" fill="none"/>
<circle cx="486.4" cy="484.2" r="5.9" stroke="#151515" stroke-width="2.04" fill="none"/>
<circle cx="81.6" cy="546.6" r="5.9" stroke="#151515" stroke-width="2.04" fill="none"/>
<circle cx="186.4" cy="546.6" r="5.9" stroke="#151515" stroke-width="2.04" fill="none"/>
<circle cx="292.0" cy="546.6" r="5.9" stroke="#151515" stroke-width="2.04" fill="none"/>
<circle cx="398.0" cy="546.6" r="5.9" stroke="#151515" stroke-width="2.04" fill="none"/>
<circle cx="503.4" cy="546.6" r="5.9" stroke="#151515" stroke-width="2.04" fill="none"/>
<path d="M311.5,478.7A5.9,5.9 0 0 1 311.5,489.7A9,9 0 0 0 311.5,478.7Z" stroke="#151515" stroke-width="0.6" fill="#222" />
<line x1="250.0" y1="544.4" x2="245.2" y2="578.0" stroke="#151515" stroke-width="1.8"/>
<line x1="262.8" y1="539.6" x2="257.2" y2="578.0" stroke="#6a6a6a" stroke-width="1.2"/>
<line x1="358.0" y1="544.4" x2="362.8" y2="578.0" stroke="#6a6a6a" stroke-width="1.2"/>
<line x1="368.4" y1="538.5" x2="374.0" y2="578.0" stroke="#151515" stroke-width="1.8"/>
<rect x="244.7" y="577.2" width="130.1" height="27.2" rx="3.5" stroke="#151515" stroke-width="2.04" fill="none"/>
<line x1="246.0" y1="579.8" x2="373.5" y2="579.8" stroke="#151515" stroke-width="1.2"/>
<rect x="273.2" y="580.6" width="72.0" height="19.8" rx="5.0" stroke="#151515" stroke-width="2.4" fill="none"/>
<line x1="285.2" y1="581.0" x2="285.2" y2="600.0" stroke="#6a6a6a" stroke-width="1.32"/>
<line x1="334.0" y1="581.0" x2="334.0" y2="600.0" stroke="#6a6a6a" stroke-width="1.32"/>
<ellipse cx="258.0" cy="582.2" rx="3.3" ry="1.5" stroke="#333" stroke-width="1.2" fill="#444"/>
<ellipse cx="258.0" cy="600.0" rx="3.3" ry="1.5" stroke="#333" stroke-width="1.2" fill="#444"/>
<ellipse cx="361.5" cy="582.2" rx="3.3" ry="1.5" stroke="#333" stroke-width="1.2" fill="#444"/>
<ellipse cx="361.5" cy="600.0" rx="3.3" ry="1.5" stroke="#333" stroke-width="1.2" fill="#444"/>
<g transform="translate(134.0,443.0) rotate(0) scale(1.08,1)" fill="#151515" stroke="#151515" stroke-width="0.7" font-size="24">
<text x="-15.04" y="8.59">5</text>
<text x="1.70" y="8.59">9</text>
</g>
<g transform="translate(226.0,394.4) rotate(0) scale(1.08,1)" fill="#151515" stroke="#151515" stroke-width="0.7" font-size="24">
<text x="-15.04" y="8.59">2</text>
<text x="1.70" y="8.59">9</text>
</g>
<g transform="translate(134.3,565.6) rotate(0) scale(1.08,1)" fill="#151515" stroke="#151515" stroke-width="0.7" font-size="24">
<text x="-15.04" y="8.59">8</text>
<text x="1.70" y="8.59">8</text>
</g>
<g transform="translate(292.4,634.8) rotate(0) scale(1.08,1)" fill="#151515" stroke="#151515" stroke-width="0.7" font-size="24">
<text x="-23.42" y="8.59">3</text>
<text x="-6.67" y="8.59">7</text>
<text x="10.07" y="8.59">3</text>
</g>
<path d="M613.4,462.6C615.9,460.7 622.7,455.5 628.2,451.4C633.7,447.3 639.8,442.5 646.6,437.8C653.4,433.1 661.8,426.9 669.0,423.0C676.2,419.1 683.5,416.3 690.0,414.3C696.5,412.3 702.3,411.4 708.0,411.2C713.7,411.0 718.7,411.5 724.0,413.0C729.3,414.5 734.7,416.8 740.0,420.0C745.3,423.2 751.0,427.7 756.0,432.0C761.0,436.3 765.3,441.3 770.0,446.0C774.7,450.7 779.0,456.2 784.0,460.0C789.0,463.8 795.0,466.2 800.0,468.5C805.0,470.8 809.6,472.3 814.0,473.6C818.4,474.9 824.4,475.9 826.5,476.3" stroke="#151515" stroke-width="2.4" fill="none" />
<path d="M786.0,460.0C786.9,461.1 788.8,464.4 791.6,466.4C794.4,468.4 799.1,470.6 802.8,472.0C806.5,473.4 810.0,474.1 814.0,474.9C818.0,475.7 824.4,476.6 826.5,477.0" stroke="#151515" stroke-width="1.32" fill="none" />
<path d="M613.4,462.6L627.0,488.4" stroke="#151515" stroke-width="2.28" fill="none" />
<path d="M616.2,461.6L627.8,482.0" stroke="#151515" stroke-width="1.2" fill="none" />
<line x1="614.2" y1="464.0" x2="616.6" y2="463.2" stroke="#6a6a6a" stroke-width="0.96"/>
<line x1="616.2" y1="467.8" x2="618.4" y2="466.2" stroke="#6a6a6a" stroke-width="0.96"/>
<line x1="618.2" y1="471.5" x2="620.3" y2="469.2" stroke="#6a6a6a" stroke-width="0.96"/>
<line x1="620.2" y1="475.2" x2="622.1" y2="472.2" stroke="#6a6a6a" stroke-width="0.96"/>
<line x1="622.2" y1="479.0" x2="623.9" y2="475.2" stroke="#6a6a6a" stroke-width="0.96"/>
<line x1="624.2" y1="482.8" x2="625.8" y2="478.2" stroke="#6a6a6a" stroke-width="0.96"/>
<line x1="628.2" y1="451.4" x2="634.6" y2="464.2" stroke="#151515" stroke-width="1.32"/>
<path d="M634.6,464.2C635.0,464.7 636.1,466.6 637.0,467.4C637.9,468.1 639.0,468.8 640.2,468.7C641.4,468.6 643.0,467.9 644.2,466.6C645.4,465.3 646.5,462.9 647.2,461.0C647.9,459.1 648.2,456.3 648.4,455.4" stroke="#151515" stroke-width="1.92" fill="none" />
<line x1="648.2" y1="457.0" x2="649.4" y2="437.5" stroke="#151515" stroke-width="1.8"/>
<line x1="650.6" y1="456.0" x2="651.4" y2="436.5" stroke="#151515" stroke-width="1.44"/>
<path d="M634.6,464.2C633.9,464.6 631.6,465.4 630.6,466.6C629.6,467.8 629.1,469.3 628.6,471.4C628.1,473.5 628.0,476.6 627.8,479.4C627.6,482.2 627.3,486.7 627.2,488.2" stroke="#151515" stroke-width="1.92" fill="none" />
<path d="M626.5,488.5C626.8,490.4 627.1,494.8 628.0,500.0C628.9,505.2 630.0,513.3 632.0,520.0C634.0,526.7 637.3,533.7 640.0,540.0C642.7,546.3 645.8,553.3 648.0,558.0C650.2,562.7 652.2,566.3 653.0,568.0" stroke="#151515" stroke-width="1.92" fill="none" />
<path d="M653.0,568.0L662.0,604.4" stroke="#151515" stroke-width="2.04" fill="none" />
<path d="M627.5,492.0C627.8,494.7 628.2,502.0 629.5,508.0C630.8,514.0 632.8,521.7 635.0,528.0C637.2,534.3 640.5,540.5 643.0,546.0C645.5,551.5 648.3,557.3 650.0,561.0C651.7,564.7 652.5,566.8 653.0,568.0" stroke="#151515" stroke-width="1.2" fill="none" />
<path d="M653.0,568.0C652.5,565.0 650.9,555.5 650.0,550.0C649.1,544.5 648.0,538.8 647.5,535.0C647.0,531.2 646.6,528.9 646.8,527.0C647.0,525.1 647.6,524.4 648.5,523.8C649.4,523.2 650.8,523.1 652.0,523.6C653.2,524.1 654.7,525.4 656.0,526.5C657.3,527.6 658.5,529.4 660.0,530.5C661.5,531.6 663.3,532.7 665.0,533.0C666.7,533.3 668.5,533.2 670.0,532.5C671.5,531.8 672.8,529.8 674.0,528.5C675.2,527.2 676.0,525.6 677.0,524.5C678.0,523.4 679.5,522.4 680.0,522.0" stroke="#151515" stroke-width="1.8" fill="none" />
<path d="M655.0,528.0C655.8,528.8 658.3,531.3 660.0,532.5C661.7,533.7 663.3,534.7 665.0,535.0C666.7,535.3 668.3,535.3 670.0,534.5C671.7,533.7 674.2,530.8 675.0,530.0" stroke="#6a6a6a" stroke-width="1.08" fill="none" />
<path d="M662.0,604.4L737.0,576.4L709.0,526.0" stroke="#151515" stroke-width="2.04" fill="none" />
<line x1="658.0" y1="532.0" x2="672.5" y2="599.5" stroke="#151515" stroke-width="1.2"/>
<line x1="701.0" y1="530.0" x2="725.5" y2="580.0" stroke="#151515" stroke-width="1.2"/>
<path d="M744.0,467.0C742.0,465.7 736.0,461.2 732.0,459.0C728.0,456.8 723.7,455.3 720.0,454.0C716.3,452.7 713.3,451.7 710.0,451.0C706.7,450.3 703.3,450.0 700.0,450.0C696.7,450.0 693.3,450.2 690.0,451.0C686.7,451.8 683.3,452.8 680.0,454.5C676.7,456.2 673.0,458.4 670.0,461.0C667.0,463.6 664.2,466.8 662.0,470.0C659.8,473.2 658.2,476.7 657.0,480.0C655.8,483.3 655.0,486.0 655.0,490.0C655.0,494.0 655.2,499.7 657.0,504.0C658.8,508.3 662.5,512.7 666.0,516.0C669.5,519.3 676.0,522.7 678.0,524.0" stroke="#151515" stroke-width="1.44" fill="none" />
<path d="M800.0,473.0C790.7,472.0 757.3,468.7 744.0,467.0C730.7,465.3 728.0,464.0 720.0,463.0C712.0,462.0 701.7,461.1 696.0,461.0C690.3,460.9 689.3,461.5 686.0,462.5C682.7,463.5 678.8,465.2 676.0,467.0C673.2,468.8 670.8,471.2 669.0,473.5C667.2,475.8 666.0,478.2 665.0,481.0C664.0,483.8 663.2,487.0 663.0,490.0C662.8,493.0 663.2,496.0 664.0,499.0C664.8,502.0 666.3,505.4 668.0,508.0C669.7,510.6 672.0,512.8 674.0,514.5C676.0,516.2 677.7,517.4 680.0,518.5C682.3,519.6 684.7,520.2 688.0,521.0C691.3,521.8 696.5,522.7 700.0,523.5C703.5,524.3 707.5,525.6 709.0,526.0" stroke="#151515" stroke-width="1.8" fill="none" />
<path d="M800.0,473.0L826.5,477.0" stroke="#151515" stroke-width="1.8" fill="none" />
<path d="M709.0,526.0L780.0,535.0L826.5,540.5" stroke="#151515" stroke-width="1.8" fill="none" />
<path d="M712.0,530.0L780.0,538.5L826.5,542.0" stroke="#151515" stroke-width="1.56" fill="none" />
<ellipse cx="686.0" cy="523.0" rx="4.5" ry="3.0" stroke="#151515" stroke-width="1.2" fill="none"/>
<line x1="683.0" y1="520.0" x2="683.5" y2="526.0" stroke="#6a6a6a" stroke-width="1.08"/>
<path d="M690.0,522.0C691.2,522.6 694.7,524.7 697.0,525.5C699.3,526.3 702.0,526.9 704.0,527.0C706.0,527.1 708.2,526.2 709.0,526.0" stroke="#6a6a6a" stroke-width="1.08" fill="none" />
<rect x="827.6" y="471.3" width="16.8" height="88.7" rx="1.5" stroke="#151515" stroke-width="2.16" fill="none"/>
<line x1="828.0" y1="481.0" x2="844.0" y2="481.0" stroke="#6a6a6a" stroke-width="1.44"/>
<line x1="828.0" y1="542.4" x2="844.0" y2="542.4" stroke="#6a6a6a" stroke-width="1.44"/>
<g transform="translate(730.0,350.0) rotate(0) scale(1.08,1)" fill="#151515" stroke="#151515" stroke-width="0.7" font-size="24">
<path transform="translate(-23.42,8.59) scale(24)" d="M0.3726,0H0.2847V-0.5601Q0.2529,-0.5298 0.2014,-0.4995T0.1089,-0.4541V-0.5391Q0.1821,-0.5735 0.2368,-0.6226T0.3145,-0.7173H0.3726Z" stroke-width="0.0292"/>
<text x="-6.67" y="8.59">8</text>
<text x="10.07" y="8.59">9</text>
</g>
<g transform="translate(901.6,539.0) rotate(-90) scale(1.08,1)" fill="#151515" stroke="#151515" stroke-width="0.7" font-size="24">
<path transform="translate(-23.42,8.59) scale(24)" d="M0.3726,0H0.2847V-0.5601Q0.2529,-0.5298 0.2014,-0.4995T0.1089,-0.4541V-0.5391Q0.1821,-0.5735 0.2368,-0.6226T0.3145,-0.7173H0.3726Z" stroke-width="0.0292"/>
<path transform="translate(-6.67,8.59) scale(24)" d="M0.3726,0H0.2847V-0.5601Q0.2529,-0.5298 0.2014,-0.4995T0.1089,-0.4541V-0.5391Q0.1821,-0.5735 0.2368,-0.6226T0.3145,-0.7173H0.3726Z" stroke-width="0.0292"/>
<path transform="translate(10.07,8.59) scale(24)" d="M0.3726,0H0.2847V-0.5601Q0.2529,-0.5298 0.2014,-0.4995T0.1089,-0.4541V-0.5391Q0.1821,-0.5735 0.2368,-0.6226T0.3145,-0.7173H0.3726Z" stroke-width="0.0292"/>
</g>
<g transform="translate(946.4,508.0) rotate(-90) scale(1.08,1)" fill="#151515" stroke="#151515" stroke-width="0.7" font-size="24">
<path transform="translate(-23.42,8.59) scale(24)" d="M0.3726,0H0.2847V-0.5601Q0.2529,-0.5298 0.2014,-0.4995T0.1089,-0.4541V-0.5391Q0.1821,-0.5735 0.2368,-0.6226T0.3145,-0.7173H0.3726Z" stroke-width="0.0292"/>
<text x="-6.67" y="8.59">6</text>
<path transform="translate(10.07,8.59) scale(24)" d="M0.3726,0H0.2847V-0.5601Q0.2529,-0.5298 0.2014,-0.4995T0.1089,-0.4541V-0.5391Q0.1821,-0.5735 0.2368,-0.6226T0.3145,-0.7173H0.3726Z" stroke-width="0.0292"/>
</g>
<g transform="translate(732.5,686.0) rotate(36) scale(1.0,1)" fill="#151515" stroke="#151515" stroke-width="0.7" font-size="23">
<text x="-15.29" y="8.23">7</text>
<text x="2.50" y="8.23">0</text>
</g>
<circle cx="754.4" cy="690.2" r="1.9" stroke="#555" stroke-width="1.44" fill="none"/>
<line x1="86.0" y1="902.5" x2="86.0" y2="919.5" stroke="#777" stroke-width="1.44"/>
<line x1="111.0" y1="902.5" x2="111.0" y2="919.5" stroke="#333" stroke-width="1.68"/>
<line x1="117.0" y1="902.5" x2="117.0" y2="919.5" stroke="#777" stroke-width="1.44"/>
<line x1="152.0" y1="902.5" x2="152.0" y2="919.5" stroke="#777" stroke-width="1.44"/>
<line x1="157.5" y1="902.5" x2="157.5" y2="919.5" stroke="#333" stroke-width="1.68"/>
<line x1="169.0" y1="902.5" x2="169.0" y2="919.5" stroke="#777" stroke-width="1.44"/>
<line x1="204.0" y1="902.5" x2="204.0" y2="919.5" stroke="#777" stroke-width="1.44"/>
<line x1="215.0" y1="902.5" x2="215.0" y2="919.5" stroke="#777" stroke-width="1.44"/>
<line x1="221.0" y1="902.5" x2="221.0" y2="919.5" stroke="#333" stroke-width="1.68"/>
<line x1="257.5" y1="902.5" x2="257.5" y2="919.5" stroke="#333" stroke-width="1.68"/>
<line x1="263.0" y1="902.5" x2="263.0" y2="919.5" stroke="#777" stroke-width="1.44"/>
<line x1="274.0" y1="902.5" x2="274.0" y2="919.5" stroke="#777" stroke-width="1.44"/>
<line x1="309.5" y1="902.5" x2="309.5" y2="919.5" stroke="#777" stroke-width="1.44"/>
<line x1="320.5" y1="902.5" x2="320.5" y2="919.5" stroke="#333" stroke-width="1.68"/>
<line x1="327.5" y1="902.5" x2="327.5" y2="919.5" stroke="#777" stroke-width="1.44"/>
<line x1="364.0" y1="902.5" x2="364.0" y2="919.5" stroke="#777" stroke-width="1.44"/>
<line x1="369.0" y1="902.5" x2="369.0" y2="919.5" stroke="#333" stroke-width="1.68"/>
<line x1="380.0" y1="902.5" x2="380.0" y2="919.5" stroke="#777" stroke-width="1.44"/>
<line x1="415.0" y1="902.5" x2="415.0" y2="919.5" stroke="#777" stroke-width="1.44"/>
<line x1="426.0" y1="902.5" x2="426.0" y2="919.5" stroke="#333" stroke-width="1.68"/>
<line x1="432.5" y1="902.5" x2="432.5" y2="919.5" stroke="#777" stroke-width="1.44"/>
<line x1="469.0" y1="902.5" x2="469.0" y2="919.5" stroke="#777" stroke-width="1.44"/>
<line x1="474.5" y1="902.5" x2="474.5" y2="919.5" stroke="#333" stroke-width="1.68"/>
<line x1="499.5" y1="902.5" x2="499.5" y2="919.5" stroke="#777" stroke-width="1.44"/>
<rect x="69.5" y="902.5" width="446.5" height="17.0" rx="1.2" stroke="#151515" stroke-width="2.16" fill="none"/>
<path d="M242.0,738.5C238.3,740.1 228.7,743.8 220.0,748.0C211.3,752.2 200.0,757.7 190.0,764.0C180.0,770.3 168.3,778.7 160.0,786.0C151.7,793.3 146.0,799.7 140.0,808.0C134.0,816.3 128.3,826.7 124.0,836.0C119.7,845.3 116.7,854.7 114.0,864.0C111.3,873.3 109.2,885.7 108.0,892.0C106.8,898.3 107.2,900.3 107.0,902.0" stroke="#151515" stroke-width="1.92" fill="none" />
<path d="M254.0,714.0C253.0,715.3 249.8,718.0 248.0,722.0C246.2,726.0 245.3,728.3 243.0,738.0C240.7,747.7 237.8,764.0 234.0,780.0C230.2,796.0 223.0,820.7 220.0,834.0C217.0,847.3 217.3,851.5 216.0,860.0C214.7,868.5 213.0,878.0 212.0,885.0C211.0,892.0 210.3,899.2 210.0,902.0" stroke="#151515" stroke-width="1.92" fill="none" />
<line x1="240.0" y1="741.0" x2="204.5" y2="828.0" stroke="#151515" stroke-width="1.2"/>
<path d="M204.5,828.5C204.9,828.2 205.9,827.0 207.0,826.5C208.1,826.0 209.7,825.7 211.0,825.8C212.3,825.9 213.8,826.5 215.0,827.3C216.2,828.1 217.7,829.4 218.5,830.5C219.3,831.6 219.8,833.4 220.0,834.0" stroke="#151515" stroke-width="1.68" fill="none" />
<path d="M204.5,828.5C202.1,831.4 194.4,839.8 190.0,846.0C185.6,852.2 181.0,859.7 178.0,866.0C175.0,872.3 173.4,878.0 172.0,884.0C170.6,890.0 169.9,899.0 169.5,902.0" stroke="#151515" stroke-width="1.92" fill="none" />
<path d="M255.0,712.5C255.4,710.8 255.2,709.2 258.5,707.0C261.8,704.8 269.4,702.0 275.0,699.5C280.6,697.0 287.8,693.7 292.0,692.0C296.2,690.3 297.3,690.0 300.0,689.5C302.7,689.0 305.3,688.8 308.0,688.8C310.7,688.8 313.3,689.0 316.0,689.5C318.7,690.0 319.7,690.3 324.0,692.0C328.3,693.7 336.3,697.2 342.0,699.5C347.7,701.8 354.7,703.9 358.0,706.0C361.3,708.1 361.5,710.0 362.0,712.0C362.5,714.0 362.0,716.3 361.0,718.0C360.0,719.7 359.5,720.3 356.0,722.0C352.5,723.7 345.3,726.2 340.0,728.0C334.7,729.8 328.0,731.8 324.0,733.0C320.0,734.2 318.7,734.7 316.0,735.2C313.3,735.7 310.7,736.0 308.0,736.0C305.3,736.0 302.7,735.7 300.0,735.2C297.3,734.7 296.0,734.4 292.0,733.0C288.0,731.6 281.3,729.0 276.0,727.0C270.7,725.0 263.3,722.6 260.0,721.0C256.7,719.4 256.8,718.9 256.0,717.5C255.2,716.1 254.6,714.2 255.0,712.5Z" stroke="#151515" stroke-width="2.16" fill="none" />
<ellipse cx="307.4" cy="712.6" rx="21.8" ry="17.4" stroke="#151515" stroke-width="2.16" fill="none"/>
<path d="M287.5,711.5C288.1,711.6 289.8,711.5 291.0,712.0C292.2,712.5 293.5,713.5 294.5,714.5C295.5,715.5 296.6,717.4 297.0,718.0" stroke="#151515" stroke-width="1.56" fill="none" />
<path d="M327.5,711.5C326.9,711.6 325.2,711.5 324.0,712.0C322.8,712.5 321.5,713.5 320.5,714.5C319.5,715.5 318.4,717.4 318.0,718.0" stroke="#151515" stroke-width="1.56" fill="none" />
<path d="M289.0,710.0C289.7,709.8 291.7,708.5 293.0,708.5C294.3,708.5 295.8,709.2 297.0,710.0C298.2,710.8 299.5,712.9 300.0,713.5" stroke="#6a6a6a" stroke-width="1.2" fill="none" />
<path d="M326.0,710.0C325.3,709.8 323.3,708.5 322.0,708.5C320.7,708.5 319.2,709.2 318.0,710.0C316.8,710.8 315.5,712.9 315.0,713.5" stroke="#6a6a6a" stroke-width="1.2" fill="none" />
<path d="M299.6,716.0L302.5,712.8L313.0,712.8L316.0,716.0L314.0,723.0L302.0,723.0Z" stroke="#151515" stroke-width="1.8" fill="none" />
<path d="M287.0,716.0C287.3,717.0 287.7,720.2 289.0,722.0C290.3,723.8 291.9,725.9 295.0,727.0C298.1,728.1 303.2,728.6 307.4,728.6C311.6,728.6 316.9,728.1 320.0,727.0C323.1,725.9 324.7,723.8 326.0,722.0C327.3,720.2 327.7,717.0 328.0,716.0" stroke="#151515" stroke-width="1.56" fill="none" />
<line x1="294.3" y1="714.5" x2="294.3" y2="724.5" stroke="#151515" stroke-width="2.16"/>
<line x1="321.0" y1="714.5" x2="321.0" y2="724.5" stroke="#151515" stroke-width="2.16"/>
<path d="M297.0,718.0C297.3,718.9 297.8,722.2 299.0,723.5C300.2,724.8 302.0,725.6 304.0,726.0C306.0,726.4 309.0,726.4 311.0,726.0C313.0,725.6 314.8,724.8 316.0,723.5C317.2,722.2 317.7,718.9 318.0,718.0" stroke="#151515" stroke-width="1.32" fill="none" />
<circle cx="264.2" cy="712.8" r="3.8" stroke="#151515" stroke-width="1.92" fill="none"/>
<path d="M350.0,709.2C351.5,709.2 354.6,711.9 354.6,713.2C354.6,714.5 351.5,717.2 350.0,717.2C348.5,717.2 345.4,714.5 345.4,713.2C345.4,711.9 348.5,709.2 350.0,709.2Z" stroke="#151515" stroke-width="1.8" fill="none" />
<path d="M257.0,721.5C258.5,722.1 262.2,723.7 266.0,725.0C269.8,726.3 275.8,727.3 280.0,729.5C284.2,731.7 287.8,734.6 291.0,738.0C294.2,741.4 297.0,746.3 299.0,750.0C301.0,753.7 302.3,758.3 303.0,760.0" stroke="#151515" stroke-width="1.8" fill="none" />
<path d="M258.0,725.5C260.0,726.0 266.3,727.2 270.0,728.5C273.7,729.8 276.9,730.8 280.0,733.0C283.1,735.2 285.9,738.7 288.5,742.0C291.1,745.3 293.6,749.5 295.5,753.0C297.4,756.5 299.2,761.3 300.0,763.0" stroke="#151515" stroke-width="1.2" fill="none" />
<path d="M359.5,721.5C357.9,722.1 354.1,723.7 350.0,725.0C345.9,726.3 339.5,727.3 335.0,729.5C330.5,731.7 326.5,734.6 323.0,738.0C319.5,741.4 316.3,746.3 314.0,750.0C311.7,753.7 309.8,758.3 309.0,760.0" stroke="#151515" stroke-width="1.8" fill="none" />
<path d="M360.0,725.5C358.0,726.1 352.0,727.7 348.0,729.0C344.0,730.3 339.6,731.3 336.0,733.5C332.4,735.7 329.5,738.8 326.5,742.0C323.5,745.2 320.3,749.5 318.0,753.0C315.7,756.5 313.4,761.3 312.5,763.0" stroke="#151515" stroke-width="1.2" fill="none" />
<path d="M253.0,724.0C253.8,724.5 255.8,726.4 258.0,727.0C260.2,727.6 264.7,727.4 266.0,727.5" stroke="#6a6a6a" stroke-width="1.44" fill="none" />
<path d="M346.0,727.5C347.3,727.5 351.5,727.9 354.0,727.5C356.5,727.1 359.8,725.4 361.0,725.0" stroke="#6a6a6a" stroke-width="1.44" fill="none" />
<path d="M304.0,760.0C303.0,763.3 300.3,771.3 298.0,780.0C295.7,788.7 293.0,800.3 290.0,812.0C287.0,823.7 282.8,835.0 280.0,850.0C277.2,865.0 274.2,893.3 273.0,902.0" stroke="#151515" stroke-width="1.92" fill="none" />
<path d="M308.0,760.0C308.3,763.3 309.1,771.3 309.6,780.0C310.1,788.7 310.5,798.7 311.0,812.0C311.5,825.3 312.1,845.0 312.4,860.0C312.7,875.0 312.9,895.0 313.0,902.0" stroke="#151515" stroke-width="1.92" fill="none" />
<line x1="290.0" y1="812.5" x2="311.0" y2="812.5" stroke="#151515" stroke-width="1.92"/>
<line x1="297.0" y1="783.0" x2="309.6" y2="783.0" stroke="#151515" stroke-width="1.44"/>
<path d="M304.0,764.0C303.5,765.3 301.3,769.5 301.0,772.0C300.7,774.5 301.2,777.3 302.0,779.0C302.8,780.7 305.3,781.5 306.0,782.0" stroke="#151515" stroke-width="1.44" fill="none" />
<path d="M304.0,762.0C303.3,763.7 301.0,768.8 300.0,772.0C299.0,775.2 298.3,779.5 298.0,781.0" stroke="#151515" stroke-width="2.64" fill="none" />
<path d="M362.0,716.0C362.5,717.3 364.0,720.0 365.0,724.0C366.0,728.0 367.0,733.2 368.0,740.0C369.0,746.8 370.2,756.7 371.0,765.0C371.8,773.3 372.7,785.5 373.0,789.6" stroke="#151515" stroke-width="1.68" fill="none" />
<path d="M366.0,726.0C367.0,729.2 370.0,738.0 372.0,745.0C374.0,752.0 377.2,761.8 378.0,768.0C378.8,774.2 377.8,778.4 377.0,782.0C376.2,785.6 373.7,788.3 373.0,789.6" stroke="#333" stroke-width="1.2" fill="none" />
<path d="M373.0,789.6C373.2,796.3 374.1,811.3 374.5,830.0C374.9,848.7 375.4,890.0 375.6,902.0" stroke="#151515" stroke-width="1.92" fill="none" />
<path d="M366.0,725.0C370.0,725.8 381.0,726.5 390.0,730.0C399.0,733.5 411.0,739.7 420.0,746.0C429.0,752.3 437.3,760.3 444.0,768.0C450.7,775.7 455.3,783.3 460.0,792.0C464.7,800.7 468.7,810.3 472.0,820.0C475.3,829.7 478.3,840.0 480.0,850.0C481.7,860.0 482.1,871.3 482.4,880.0C482.6,888.7 481.6,898.3 481.5,902.0" stroke="#151515" stroke-width="1.92" fill="none" />
<path d="M373.0,789.6C375.8,791.0 384.8,793.6 390.0,798.0C395.2,802.4 400.0,809.0 404.0,816.0C408.0,823.0 411.5,829.3 414.0,840.0C416.5,850.7 418.2,869.7 419.0,880.0C419.8,890.3 419.0,898.3 419.0,902.0" stroke="#151515" stroke-width="1.92" fill="none" />
<g transform="translate(227.3,689.3) rotate(17.6) scale(0.78,1)" fill="#151515" stroke="#151515" stroke-width="0.8" font-size="23">
<text x="-9.58" y="8.23">M</text>
</g>
<g transform="translate(244.9,695.0) rotate(17.6) scale(1.05,1)" fill="#151515" stroke="#151515" stroke-width="0.7" font-size="23">
<text x="-6.39" y="8.23">8</text>
</g>
<circle cx="212.5" cy="685.0" r="5.6" stroke="#444" stroke-width="1.2" fill="none"/>
<line x1="209.6" y1="692.0" x2="216.6" y2="678.6" stroke="#444" stroke-width="1.2"/>
</g>
</svg>
</body></html>
